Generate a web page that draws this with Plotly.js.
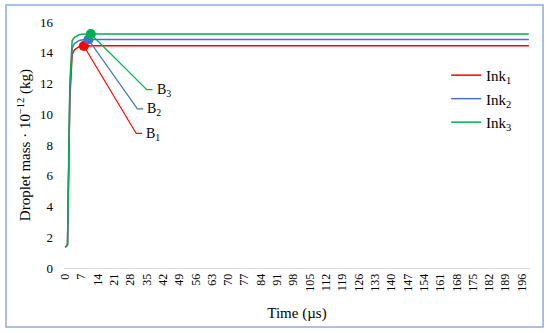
<!DOCTYPE html>
<html>
<head>
<meta charset="utf-8">
<script src="https://cdn.plot.ly/plotly-3.0.1.min.js"></script>
<style>html,body{margin:0;padding:0;background:#fff;} #chart{width:550px;height:333px;}</style>
</head>
<body>
<div id="chart"></div>
<script>
// Time (µs) samples; plateau is flat after the initial rise
const time = [0, 1, 2, 3, 4, 5, 6, 7, 8, 9, 10, 11, 12, 199];
const ink1 = [1.35, 1.5, 11.0, 13.9, 14.2, 14.33, 14.4, 14.43, 14.44, 14.45, 14.45, 14.45, 14.45, 14.45];
const ink2 = [1.35, 1.5, 11.5, 14.3, 14.6, 14.72, 14.8, 14.83, 14.85, 14.86, 14.86, 14.86, 14.86, 14.86];
const ink3 = [1.35, 1.5, 12.0, 14.8, 15.0, 15.1, 15.17, 15.2, 15.22, 15.22, 15.22, 15.22, 15.22, 15.22];
const seriesNames = ['Ink<sub>1</sub>', 'Ink<sub>2</sub>', 'Ink<sub>3</sub>'];
const colors = ['#ff0000', '#4472c4', '#00b050'];
// B-points (time, mass) marked on each curve
const bTime = [8, 10, 11];
const bMass = [14.44, 14.86, 15.22];
const bLabels = ['B<sub>1</sub>', 'B<sub>2</sub>', 'B<sub>3</sub>'];
// callout label positions (time, mass)
const calloutTime = [30.5, 31.0, 35.0];
const calloutMass = [8.75, 10.35, 11.6];
const xTicks = [0,7,14,21,28,35,42,49,56,63,70,77,84,91,98,105,112,119,126,133,140,147,154,161,168,175,182,189,196];

const SERIF = '"Liberation Serif", "Times New Roman", Times, serif';
const series = [ink1, ink2, ink3];
const traces = [];
series.forEach((s, i) => {
  traces.push({x: time, y: s, type: 'scatter', mode: 'lines', name: seriesNames[i],
    line: {color: colors[i], width: 1.5}, legendgroup: 'g' + i});
});
// callout leader lines
bTime.forEach((t, i) => {
  traces.push({x: [t, calloutTime[i], calloutTime[i] + 2.5], y: [bMass[i], calloutMass[i], calloutMass[i]],
    type: 'scatter', mode: 'lines', line: {color: colors[i], width: 1.2}, showlegend: false, hoverinfo: 'skip'});
});
// markers
bTime.forEach((t, i) => {
  traces.push({x: [t], y: [bMass[i]], type: 'scatter', mode: 'markers',
    marker: {color: colors[i], size: 10}, showlegend: false, hoverinfo: 'skip'});
});

const annotations = bTime.map((t, i) => ({
  x: calloutTime[i] + 2.5, y: calloutMass[i], xref: 'x', yref: 'y', text: bLabels[i],
  showarrow: false, xanchor: 'left', yanchor: 'middle', xshift: 2, yshift: -1,
  font: {family: SERIF, size: 14, color: '#000'}
}));

const layout = {
  width: 550, height: 333,
  margin: {l: 64, r: 20, t: 22, b: 65},
  paper_bgcolor: '#fff', plot_bgcolor: '#fff',
  font: {family: SERIF, size: 12, color: '#000'},
  showlegend: true,
  legend: {x: 0.82, y: 0.85, xanchor: 'left', yanchor: 'top', bgcolor: 'rgba(0,0,0,0)',
    font: {size: 15, family: SERIF}, tracegroupgap: 1},
  xaxis: {range: [-0.5, 199.5], tickmode: 'array', tickvals: xTicks, ticktext: xTicks.map(String),
    tickangle: -90, showgrid: false, zeroline: false, showline: true, linecolor: '#d9d9d9', linewidth: 1,
    ticks: '', tickfont: {size: 12, family: SERIF}, fixedrange: true,
    title: {text: 'Time (µs)', font: {size: 15, family: SERIF}, standoff: 16}},
  yaxis: {range: [0, 16], tickvals: [0,2,4,6,8,10,12,14,16], showgrid: false, zeroline: false,
    showline: false, ticks: '', tickfont: {size: 13, family: SERIF}, ticklabelstandoff: 10,
    title: {text: 'Droplet mass · 10<sup>−12</sup> (kg)', font: {size: 15, family: SERIF}, standoff: 5}},
  annotations: annotations,
  shapes: [{type: 'rect', xref: 'paper', yref: 'paper', x0: -0.1245, x1: 1.028, y0: -0.240, y1: 1.069,
    line: {color: '#8eaadb', width: 1.5}, fillcolor: 'rgba(0,0,0,0)', layer: 'below'}]
};
Plotly.newPlot('chart', traces, layout, {displayModeBar: false, staticPlot: true});
</script>
</body>
</html>
